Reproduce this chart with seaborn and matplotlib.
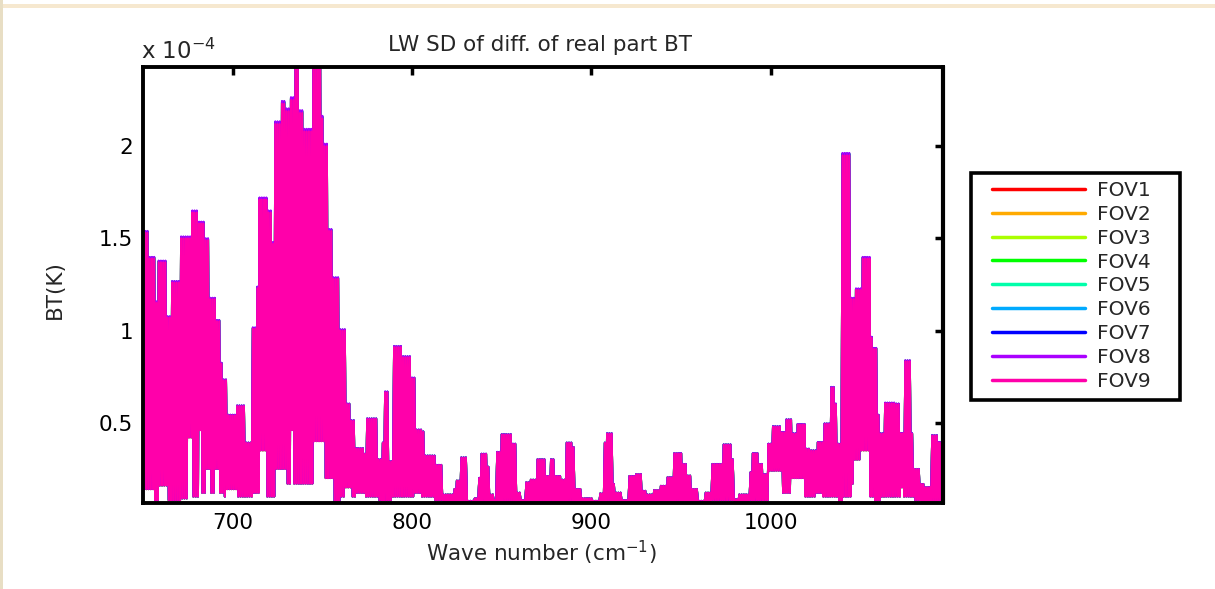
import numpy as np
import pandas as pd
import matplotlib
matplotlib.use("Agg")
import matplotlib.pyplot as plt
import seaborn as sns
from matplotlib.ticker import FuncFormatter, FixedLocator
from matplotlib.patches import Rectangle
from matplotlib.lines import Line2D

# ---------------- data ----------------
# spectral blocks: start wavenumber (cm-1), upper and lower SD envelope (x 1e-4 K)
block_start_wn = [
    650.0, 653.0, 656.7, 658.6, 663.3, 665.1, 670.7, 674.5, 677.2, 681.0,
    683.0, 684.7, 687.5, 690.3, 693.1, 695.0, 696.8, 702.4, 707.1, 710.8,
    712.7, 714.6, 719.2, 722.0, 723.4, 726.7, 729.5, 732.3, 734.2, 737.0,
    739.8, 744.4, 749.1, 751.0, 752.8, 756.2, 759.4, 763.1, 765.9, 768.7,
    773.4, 774.3, 780.8, 782.7, 784.2, 787.4, 789.2, 794.8, 799.5, 801.4,
    805.1, 807.0, 812.6, 816.3, 817.2, 822.8, 824.7, 826.6, 831.2, 834.0,
    836.8, 838.7, 842.1, 843.4, 845.2, 847.1, 849.0, 855.5, 858.3, 861.1,
    863.0, 865.8, 869.5, 874.2, 877.0, 879.7, 882.6, 885.4, 889.1, 891.0,
    894.7, 900.3, 905.0, 906.8, 908.7, 911.5, 913.3, 917.1, 920.8, 924.5,
    928.3, 931.1, 933.9, 937.6, 941.4, 945.1, 950.7, 952.6, 955.4, 960.0,
    962.8, 966.6, 973.1, 977.8, 979.6, 982.4, 988.0, 989.9, 993.6, 995.5,
    998.3, 1001.1, 1005.8, 1008.6, 1011.4, 1014.2, 1018.8, 1021.6, 1025.4, 1029.1,
    1032.8, 1035.6, 1037.5, 1039.4, 1044.9, 1046.8, 1050.6, 1055.2, 1057.1, 1058.9,
    1060.8, 1063.6, 1069.2, 1072.0, 1073.9, 1077.6, 1079.5, 1083.2, 1085.1, 1088.8,
    1093.5,
]
sd_upper_e4 = [
    1.53, 1.39, 1.15, 1.37, 1.07, 1.26, 1.50, 1.50, 1.64, 1.58,
    1.58, 1.49, 1.17, 1.05, 0.82, 0.73, 0.54, 0.59, 0.39, 1.01,
    1.23, 1.71, 1.64, 1.47, 2.12, 2.23, 2.19, 2.25, 2.43, 2.18,
    2.08, 2.43, 2.15, 2.00, 1.54, 1.28, 1.00, 0.60, 0.51, 0.36,
    0.33, 0.52, 0.30, 0.39, 0.665, 0.29, 0.91, 0.855, 0.74, 0.46,
    0.45, 0.32, 0.27, 0.24, 0.11, 0.14, 0.185, 0.31, 0.076, 0.09,
    0.20, 0.33, 0.26, 0.11, 0.08, 0.34, 0.435, 0.384, 0.12, 0.08,
    0.176, 0.19, 0.30, 0.21, 0.30, 0.21, 0.19, 0.39, 0.366, 0.14,
    0.09, 0.076, 0.116, 0.39, 0.44, 0.167, 0.12, 0.08, 0.21, 0.22,
    0.13, 0.11, 0.134, 0.157, 0.203, 0.333, 0.275, 0.212, 0.14, 0.076,
    0.12, 0.275, 0.38, 0.30, 0.085, 0.11, 0.23, 0.333, 0.275, 0.22,
    0.384, 0.478, 0.447, 0.515, 0.44, 0.49, 0.357, 0.348, 0.393, 0.493,
    0.69, 0.60, 0.384, 1.95, 1.17, 1.22, 1.39, 0.96, 0.90, 0.54,
    0.44, 0.605, 0.60, 0.442, 0.833, 0.44, 0.248, 0.167, 0.15, 0.43,
    0.393,
]
sd_lower_e4 = [
    0.14, 0.14, 0.08, 0.16, 0.08, 0.08, 0.09, 0.42, 0.10, 0.46,
    0.12, 0.25, 0.12, 0.25, 0.12, 0.10, 0.14, 0.10, 0.10, 0.12,
    0.12, 0.35, 0.10, 0.10, 0.25, 0.25, 0.17, 0.46, 0.17, 0.17,
    0.17, 0.40, 0.40, 0.20, 0.20, 0.07, 0.10, 0.15, 0.10, 0.12,
    0.20, 0.10, 0.08, 0.08, 0.08, 0.08, 0.10, 0.10, 0.10, 0.12,
    0.10, 0.10, 0.08, 0.08, 0.07, 0.07, 0.07, 0.07, 0.066, 0.066,
    0.07, 0.07, 0.07, 0.07, 0.066, 0.07, 0.07, 0.07, 0.07, 0.066,
    0.07, 0.07, 0.07, 0.07, 0.07, 0.07, 0.07, 0.07, 0.07, 0.07,
    0.066, 0.066, 0.07, 0.07, 0.07, 0.07, 0.07, 0.066, 0.07, 0.07,
    0.07, 0.07, 0.07, 0.07, 0.07, 0.07, 0.08, 0.07, 0.07, 0.066,
    0.07, 0.08, 0.08, 0.08, 0.066, 0.07, 0.08, 0.08, 0.08, 0.08,
    0.24, 0.24, 0.12, 0.12, 0.20, 0.20, 0.10, 0.10, 0.12, 0.10,
    0.10, 0.10, 0.07, 0.10, 0.17, 0.30, 0.35, 0.10, 0.08, 0.08,
    0.10, 0.10, 0.10, 0.15, 0.10, 0.10, 0.08, 0.07, 0.07, 0.07,
    0.08,
]
fov_labels = ["FOV1", "FOV2", "FOV3", "FOV4", "FOV5", "FOV6", "FOV7", "FOV8", "FOV9"]
fov_gain = [1.003, 1.002, 1.005, 1.004, 1.003, 1.004, 1.006, 1.007, 1.000]
fov_colors = ["#FF0000", "#FFAA00", "#AAFF00", "#00FF00", "#00FFAA",
              "#00AAFF", "#0000FF", "#AA00FF", "#FF00AA"]
x_ticks = [700, 800, 900, 1000]
y_ticks_e4 = [0.5, 1.0, 1.5, 2.0]
wn_first, wn_last, channel_step = 650.0, 1095.0, 0.625

# ---------------- build the long table ----------------
n_chan = int(round((wn_last - wn_first) / channel_step)) + 1
wn = wn_first + channel_step * np.arange(n_chan)
blk = np.searchsorted(np.array(block_start_wn), wn, side="right") - 1
up = np.array(sd_upper_e4)[blk]
lo = np.array(sd_lower_e4)[blk]
spectrum = np.where(np.arange(n_chan) % 2 == 0, up, lo) * 1e-4

frames = []
for lab, g in zip(fov_labels, fov_gain):
    frames.append(pd.DataFrame({"wn": wn, "sd": spectrum * g, "FOV": lab}))
df = pd.concat(frames, ignore_index=True)

# ---------------- plot ----------------
sns.set_theme(style="white")
plt.rcParams["font.family"] = ["DejaVu Sans"]

W, H = 1215, 589
FS = 15.5
fig = plt.figure(figsize=(W / 100, H / 100), dpi=100)
fig.patch.set_facecolor("white")
fig.add_artist(Rectangle((0, 1 - 8 / H), 1, 4 / H, transform=fig.transFigure,
                         facecolor="#F6E8CF", edgecolor="none"))
fig.add_artist(Rectangle((0, 0), 2.5 / W, 1, transform=fig.transFigure,
                         facecolor="#E8DEC4", edgecolor="none"))

ax = fig.add_axes([143 / W, 1 - 503 / H, 800 / W, 436 / H])
sns.lineplot(data=df, x="wn", y="sd", hue="FOV", hue_order=fov_labels,
             palette=fov_colors, estimator=None, sort=False, linewidth=1.5,
             ax=ax, legend=True)

ax.set_xlim(650, 1096)
ax.set_ylim(0.065e-4, 2.43e-4)
ax.xaxis.set_major_locator(FixedLocator(x_ticks))
ax.yaxis.set_major_locator(FixedLocator([v * 1e-4 for v in y_ticks_e4]))
ax.yaxis.set_major_formatter(FuncFormatter(lambda v, _: f"{v * 1e4:g}"))
ax.tick_params(direction="in", length=6, width=2.5, top=True, right=True,
               labelsize=FS, pad=7, colors="black")
for name, s in ax.spines.items():
    s.set_visible(True)
    s.set_linewidth(2.8)
    s.set_color("black")
    s.set_zorder(5)
ax.set_xlabel("")
ax.set_ylabel("")

# right border drawn again at figure level
fig.add_artist(Line2D([942.5 / W, 942.5 / W], [1 - 504 / H, 1 - 66 / H],
                      transform=fig.transFigure, color="black", linewidth=3.0,
                      solid_capstyle="butt", zorder=20))

fig.text(540 / W, 1 - 45 / H, "LW SD of diff. of real part BT", ha="center",
         va="center", fontsize=FS)
fig.text(141 / W, 1 - 51 / H, r"x 10$^{-4}$", ha="left", va="center", fontsize=FS + 1)
fig.text(541 / W, 1 - 553 / H, r"Wave number (cm$^{-1}$)", ha="center",
         va="center", fontsize=FS)
fig.text(55 / W, 1 - 290 / H, "BT(K)", ha="center", va="center",
         rotation=90, fontsize=FS)

# legend: entries placed freely, frame drawn at the reference box
handles, labels = ax.get_legend_handles_labels()
ax.get_legend().remove()
for h in handles:
    h.set_linewidth(2.5)
LFS = 14.5
fig.legend(handles, labels, loc="upper left",
           bbox_to_anchor=(991.7 / W, 1 - 181 / H), fontsize=LFS,
           handlelength=4.64, labelspacing=0.24, borderpad=0.0,
           handletextpad=0.58, borderaxespad=0.0, frameon=False)
fig.add_artist(Rectangle((971 / W, 1 - 400 / H), 209 / W, 227 / H,
                         transform=fig.transFigure, fill=False,
                         edgecolor="black", linewidth=2.6, zorder=10))

fig.savefig("out.png", dpi=100, facecolor=fig.get_facecolor())
